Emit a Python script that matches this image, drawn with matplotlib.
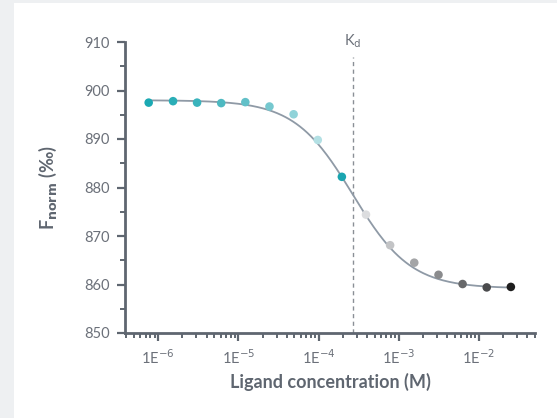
import numpy as np
import matplotlib.pyplot as plt
from matplotlib.patches import Rectangle

# ligand concentrations (M), 1:2 dilution series
conc = [7.6e-7, 1.53e-6, 3.05e-6, 6.1e-6, 1.22e-5, 2.44e-5, 4.88e-5, 9.77e-5,
        1.95e-4, 3.9e-4, 7.8e-4, 1.56e-3, 3.13e-3, 6.25e-3, 1.25e-2, 2.5e-2]
fnorm = [897.5, 897.8, 897.5, 897.4, 897.6, 896.7, 895.1, 889.8,
         882.2, 874.4, 868.1, 864.5, 862.0, 860.1, 859.4, 859.5]
point_colors = ["#1ba9b3", "#2aaeb7", "#3ab3bc", "#4db9c1", "#62c0c8", "#76c8cf",
                "#90d3d9", "#b3e0e4", "#1aa5b0", "#dcdddf", "#c3c4c6", "#a4a5a7",
                "#8a8b8d", "#67686a", "#4a4b4d", "#1e1e1e"]
xtick_labels = ["1E$^{-6}$", "1E$^{-5}$", "1E$^{-4}$", "1E$^{-3}$", "1E$^{-2}$"]

# fit parameters
kd = 2.66e-4
f_unbound = 898.0
f_bound = 859.2
hill = 1.2

axis_col = "#5f6670"
text_col = "#6b7079"

plt.rcParams["font.family"] = ["Lato", "DejaVu Sans"]

fig = plt.figure(figsize=(5.57, 4.18), dpi=100, facecolor="#eef0f2")
fig.patches.append(Rectangle((14 / 557, 0), 1, (418 - 3) / 418, transform=fig.transFigure,
                             facecolor="white", edgecolor="none", zorder=-10))
ax = fig.add_axes([125 / 557, 85 / 418, 410 / 557, 291 / 418])
ax.set_facecolor("none")

xs = np.logspace(np.log10(conc[0]), np.log10(conc[-1]), 300)
r = (xs / kd) ** hill
ax.plot(xs, f_unbound + (f_bound - f_unbound) * r / (1 + r), color="#8f9aa6", lw=1.3, zorder=2)
ax.scatter(conc, fnorm, c=point_colors, s=38, zorder=3, linewidths=0)

ax.axvline(kd, ymin=0, ymax=(906.9 - 850) / 60, color="#8a8f96", lw=1, ls=(0, (3, 2.5)), zorder=1)
ax.text(kd, 908.3, "K$_\\mathrm{d}$", ha="center", va="bottom", color=text_col, fontsize=10.5)

ax.set_xscale("log")
ax.set_xlim(3.85e-7, 5e-2)
ax.set_ylim(850, 910)
ax.set_yticks(range(850, 911, 10))
ax.set_yticks(range(855, 910, 10), minor=True)
ax.set_xticks([1e-6, 1e-5, 1e-4, 1e-3, 1e-2])
ax.set_xticklabels(xtick_labels)

for s in ["top", "right"]:
    ax.spines[s].set_visible(False)
for s in ["left", "bottom"]:
    ax.spines[s].set_color(axis_col)
    ax.spines[s].set_linewidth(2)
ax.tick_params(which="major", length=6, width=1.6, color=axis_col, labelcolor=text_col, labelsize=10.5, pad=5)
ax.tick_params(which="minor", length=3.5, width=1.4, color=axis_col)

ax.set_xlabel("Ligand concentration (M)", fontsize=13, fontweight="bold", color="#5f6670", labelpad=4)
ax.set_ylabel("F$_\\mathbf{norm}$ (‰)", fontsize=13, fontweight="bold", color="#5f6670", labelpad=18)

fig.savefig("out.png", dpi=100, facecolor=fig.get_facecolor())
